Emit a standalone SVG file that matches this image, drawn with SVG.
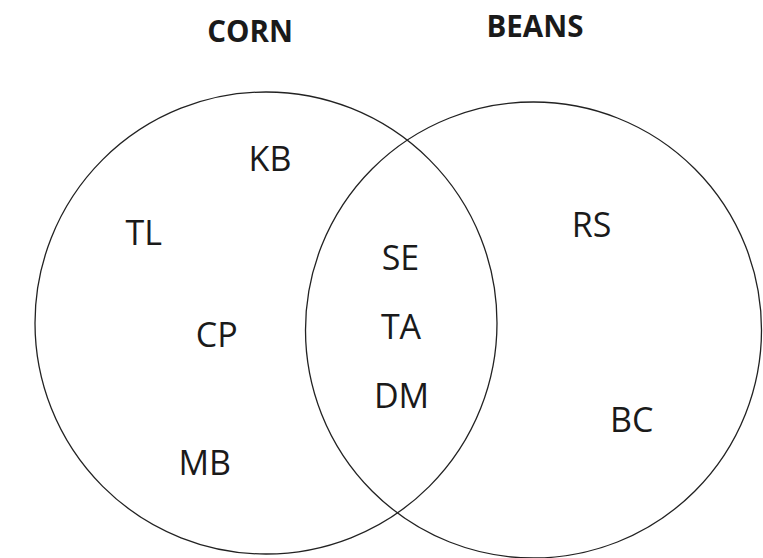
<svg xmlns="http://www.w3.org/2000/svg" width="763" height="558" viewBox="0 0 763 558">
<style>
.set{fill:none;stroke:#222;stroke-width:1.3}
.lbl{font-family:"Open Sans","Noto Sans","DejaVu Sans",sans-serif;font-size:34px;fill:#1a1a1a;text-anchor:middle}
.ttl{font-family:"Open Sans","Noto Sans","DejaVu Sans",sans-serif;font-size:29.5px;font-weight:bold;fill:#1a1a1a;text-anchor:middle}
</style>
<rect width="763" height="558" fill="#fff"/>
<g id="sets">
<circle id="corn-set" class="set" cx="266" cy="323" r="231"/>
<circle id="beans-set" class="set" cx="533.5" cy="330" r="228"/>
</g>
<g id="corn-title"><text class="ttl" x="250" y="41.5">CORN</text></g>
<g id="beans-title"><text class="ttl" x="535" y="37.3">BEANS</text></g>
<g id="KB"><text class="lbl" x="270" y="170.7">KB</text></g>
<g id="TL"><text class="lbl" x="143.7" y="245">TL</text></g>
<g id="CP"><text class="lbl" x="216.7" y="346.5">CP</text></g>
<g id="MB"><text class="lbl" x="204.7" y="475">MB</text></g>
<g id="SE"><text class="lbl" x="400.5" y="269.5">SE</text></g>
<g id="TA"><text class="lbl" x="401" y="339">TA</text></g>
<g id="DM"><text class="lbl" x="401.5" y="408">DM</text></g>
<g id="RS"><text class="lbl" x="591.5" y="237.3">RS</text></g>
<g id="BC"><text class="lbl" x="631.7" y="431.5">BC</text></g>
</svg>
